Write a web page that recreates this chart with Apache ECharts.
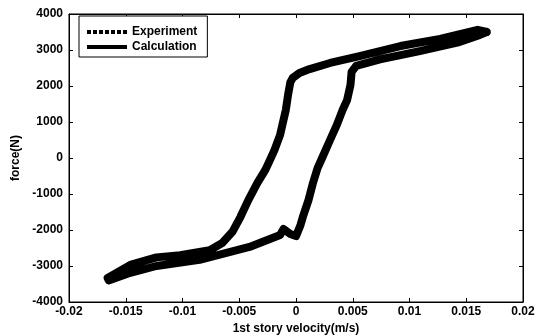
<!doctype html>
<html lang="en">
<head>
    <meta charset="UTF-8">
    <script src="https://cdn.jsdelivr.net/npm/echarts@6/dist/echarts.min.js"></script>
    <title>force - velocity</title>
</head>
<body style="margin:0;background:#fff;">
<div id="main" style="width: 548px;height:335px;"></div>
</body>
<script>
    // traced loop: tip -> upper band -> left branch -> lower band -> right branch -> tip
    var velocity = [
        0.0168, 0.0160, 0.0127, 0.0092, 0.0056, 0.0030, 0.0012, 0.0003, -0.0003, -0.0005,
        -0.0007, -0.0009, -0.0012, -0.0014, -0.0019, -0.0023, -0.0027, -0.0034, -0.0042, -0.0049,
        -0.0056, -0.0065, -0.0076, -0.0102, -0.0123, -0.0146, -0.0166, -0.0165, -0.0146, -0.0123,
        -0.0085, -0.0041, -0.0014, -0.0011, -0.0005, 0.0000, 0.0004, 0.0006, 0.0011, 0.0015,
        0.0019, 0.0023, 0.0030, 0.0036, 0.0041, 0.0045, 0.0048, 0.0049, 0.0053, 0.0074,
        0.0109, 0.0144, 0.0162, 0.0168
    ];
    var force = [
        3500, 3560, 3310, 3110, 2830, 2640, 2470, 2360, 2220, 2100,
        1750, 1330, 920, 640, 220, -60, -330, -690, -1170, -1640,
        -2050, -2360, -2560, -2700, -2760, -2970, -3330, -3400, -3190, -3000,
        -2830, -2470, -2140, -1970, -2110, -2170, -1860, -1640, -1170, -690,
        -280, 0, 500, 920, 1330, 1610, 2030, 2390, 2560, 2740,
        2970, 3220, 3420, 3500
    ];
    var xTicks = [-0.02, 0.02, 0.005];
    var yTicks = [-4000, 4000, 1000];

    var loop = [];
    for (var i = 0; i < velocity.length; i++) {
        loop.push([velocity[i], force[i]]);
    }

    var myChart = echarts.init(document.getElementById('main'));
    var font = {fontFamily: 'Liberation Sans, Arial', fontWeight: 'bold', fontSize: 12, color: '#000'};
    var tickInside = {show: true, inside: true, length: 4, lineStyle: {color: '#000'}};
    var plain = function (v) { return String(v); };
    // row of dots for the experiment legend icon
    var dots = 'path://M0,0h4v4h-4z M6,0h4v4h-4z M12,0h4v4h-4z M18,0h4v4h-4z M24,0h4v4h-4z M30,0h4v4h-4z M36,0h4v4h-4z';

    var option = {
        backgroundColor: '#fff',
        animation: false,
        grid: {
            left: 69, right: 25, top: 14, bottom: 33,
            outerBoundsMode: 'none', containLabel: false,
            show: true, borderColor: '#000', borderWidth: 1
        },
        legend: {
            orient: 'vertical',
            left: 79,
            top: 16,
            itemWidth: 40,
            itemHeight: 4,
            itemGap: 3,
            padding: [10, 10, 4, 8],
            borderColor: '#000',
            borderWidth: 1,
            backgroundColor: '#fff',
            textStyle: font,
            data: [
                {name: 'Experiment', icon: dots, itemStyle: {color: '#000'}},
                {name: 'Calculation', icon: 'path://M0,0h40v4h-40z', itemStyle: {color: '#000'}}
            ]
        },
        xAxis: [{
            type: 'value',
            min: xTicks[0], max: xTicks[1], interval: xTicks[2],
            name: '1st story velocity(m/s)',
            nameLocation: 'middle',
            nameGap: 20,
            nameTextStyle: font,
            axisLine: {show: true, onZero: false, lineStyle: {color: '#000'}},
            axisTick: tickInside,
            axisLabel: Object.assign({formatter: plain, margin: 4}, font),
            splitLine: {show: false}
        }, {
            type: 'value', position: 'top',
            min: xTicks[0], max: xTicks[1], interval: xTicks[2],
            axisLine: {show: true, onZero: false, lineStyle: {color: '#000'}},
            axisTick: tickInside,
            axisLabel: {show: false},
            splitLine: {show: false}
        }],
        yAxis: [{
            type: 'value',
            min: yTicks[0], max: yTicks[1], interval: yTicks[2],
            name: 'force(N)',
            nameLocation: 'middle',
            nameGap: 38,
            nameTextStyle: font,
            axisLine: {show: true, onZero: false, lineStyle: {color: '#000'}},
            axisTick: tickInside,
            axisLabel: Object.assign({formatter: plain, margin: 6}, font),
            splitLine: {show: false}
        }, {
            type: 'value', position: 'right',
            min: yTicks[0], max: yTicks[1], interval: yTicks[2],
            axisLine: {show: true, onZero: false, lineStyle: {color: '#000'}},
            axisTick: tickInside,
            axisLabel: {show: false},
            splitLine: {show: false}
        }],
        series: [
            {
                name: 'Experiment',
                type: 'line',
                data: loop,
                symbol: 'none',
                itemStyle: {color: '#000'},
                lineStyle: {color: '#000', width: 8, join: 'round', cap: 'round'},
                z: 2
            },
            {
                name: 'Calculation',
                type: 'line',
                data: loop,
                symbol: 'none',
                itemStyle: {color: '#000'},
                lineStyle: {color: '#000', width: 2},
                z: 3
            }
        ]
    };

    myChart.setOption(option);
</script>
</html>
